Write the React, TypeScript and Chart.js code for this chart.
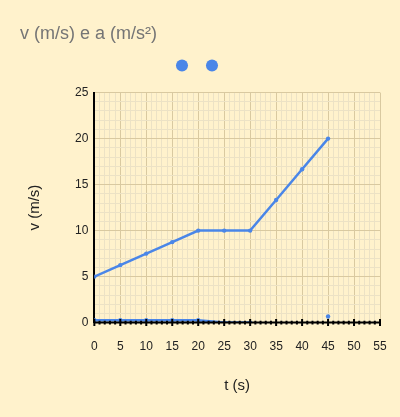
import React, { useRef, useEffect } from 'react';
import { Chart, registerables } from 'chart.js';

Chart.register(...registerables);

// tempo (s), velocidade (m/s) e aceleração (m/s²)
const times = [0, 5, 10, 15, 20, 25, 30, 35, 40, 45];
const velocity = [5, 6.25, 7.5, 8.75, 10, 10, 10, 13.33, 16.67, 20];
const acceleration = [0.25, 0.25, 0.25, 0.25, 0.25, 0, 0, null, null, 0.67];

const X_MAX = 55;
const Y_MAX = 25;
const BLUE = '#4a86e8';
const BG = '#fff2cc';
const MAJOR = '#d9c9a0';
const MINOR = '#ece2c5';
const FONT = 'Arial, "Liberation Sans", sans-serif';

// eixo horizontal em y = 0 com marcas atravessando a linha
const axisTicks = {
    id: 'axisTicks',
    afterDatasetsDraw(chart: any) {
        const { ctx, scales: { x, y } } = chart;
        const y0 = y.getPixelForValue(0);
        ctx.save();
        ctx.strokeStyle = '#000';
        ctx.lineWidth = 2;
        ctx.beginPath();
        ctx.moveTo(x.left, y0);
        ctx.lineTo(x.right, y0);
        ctx.stroke();
        ctx.beginPath();
        x.ticks.forEach((t: any) => {
            const px = x.getPixelForValue(t.value);
            const h = t.value % 5 === 0 ? 3.5 : 1.8;
            ctx.moveTo(px, y0 - h);
            ctx.lineTo(px, y0 + h);
        });
        ctx.stroke();
        ctx.restore();
    }
};

// espaço extra abaixo da legenda
const legendGap = {
    id: 'legendGap',
    beforeInit(chart: any) {
        const fit = chart.legend.fit;
        chart.legend.fit = function () {
            fit.bind(chart.legend)();
            this.height += 11;
        };
    }
};

const gridColor = (c: any) => (c.tick && c.tick.value % 5 === 0 ? MAJOR : MINOR);
const majorLabel = (v: any) => (Number(v) % 5 === 0 ? String(v) : '');

const ChartGraphic: React.FC = () => {
    const chartRef = useRef<HTMLCanvasElement | null>(null);

    useEffect(() => {
        if (!chartRef.current) return;
        const chartInstance = new Chart(chartRef.current, {
            type: 'line',
            data: {
                datasets: [
                    {
                        label: '',
                        data: times.map((t, i) => ({ x: t, y: velocity[i] })),
                        borderColor: BLUE,
                        backgroundColor: BLUE,
                        borderWidth: 2.5,
                        pointRadius: 2.2,
                        pointBorderWidth: 0,
                        tension: 0,
                    },
                    {
                        label: '',
                        data: times.map((t, i) => ({ x: t, y: acceleration[i] })),
                        borderColor: BLUE,
                        backgroundColor: BLUE,
                        borderWidth: 2.5,
                        pointRadius: 2.2,
                        pointBorderWidth: 0,
                        tension: 0,
                        spanGaps: false,
                    },
                ],
            },
            options: {
                animation: false,
                responsive: true,
                maintainAspectRatio: false,
                layout: { padding: { top: 23, left: 20, right: 20, bottom: 22 } },
                plugins: {
                    title: {
                        display: true,
                        text: 'v (m/s) e a (m/s²)',
                        align: 'start',
                        color: '#757575',
                        font: { family: FONT, size: 18, weight: 'normal' },
                        padding: { top: 0, bottom: 0 },
                    },
                    legend: {
                        display: true,
                        labels: {
                            usePointStyle: true,
                            pointStyle: 'circle',
                            boxWidth: 9,
                            boxHeight: 8.5,
                            padding: 15,
                            font: { family: FONT, size: 12 },
                        },
                    },
                    tooltip: { enabled: false },
                },
                scales: {
                    x: {
                        type: 'linear',
                        min: 0,
                        max: X_MAX,
                        ticks: {
                            stepSize: 1,
                            autoSkip: false,
                            maxRotation: 0,
                            padding: 3,
                            color: '#222',
                            font: { family: FONT, size: 12 },
                            callback: majorLabel,
                        },
                        grid: {
                            color: gridColor,
                            lineWidth: 1,
                            drawTicks: true,
                            tickLength: 14,
                            tickColor: 'rgba(0,0,0,0)',
                        },
                        border: { display: false },
                        title: {
                            display: true,
                            text: 't (s)',
                            color: '#222',
                            font: { family: FONT, size: 15 },
                            padding: { top: 20, bottom: 0 },
                        },
                    },
                    y: {
                        type: 'linear',
                        min: 0,
                        max: Y_MAX,
                        ticks: {
                            stepSize: 1,
                            autoSkip: false,
                            padding: 6,
                            color: '#222',
                            font: { family: FONT, size: 12 },
                            callback: majorLabel,
                        },
                        grid: { color: gridColor, lineWidth: 1, drawTicks: false },
                        border: { display: true, color: '#000', width: 2 },
                        title: {
                            display: true,
                            text: 'v (m/s)',
                            color: '#222',
                            font: { family: FONT, size: 15 },
                            padding: { top: 6, bottom: 25 },
                        },
                    },
                },
            },
            plugins: [axisTicks, legendGap],
        });

        return () => {
            chartInstance.destroy();
        };
    }, []);

    return <canvas ref={chartRef}></canvas>;
};

export default function App() {
    return (
        <div style={{ position: 'absolute', left: 0, top: 0, width: 400, height: 417, background: BG }}>
            <ChartGraphic />
        </div>
    );
}
